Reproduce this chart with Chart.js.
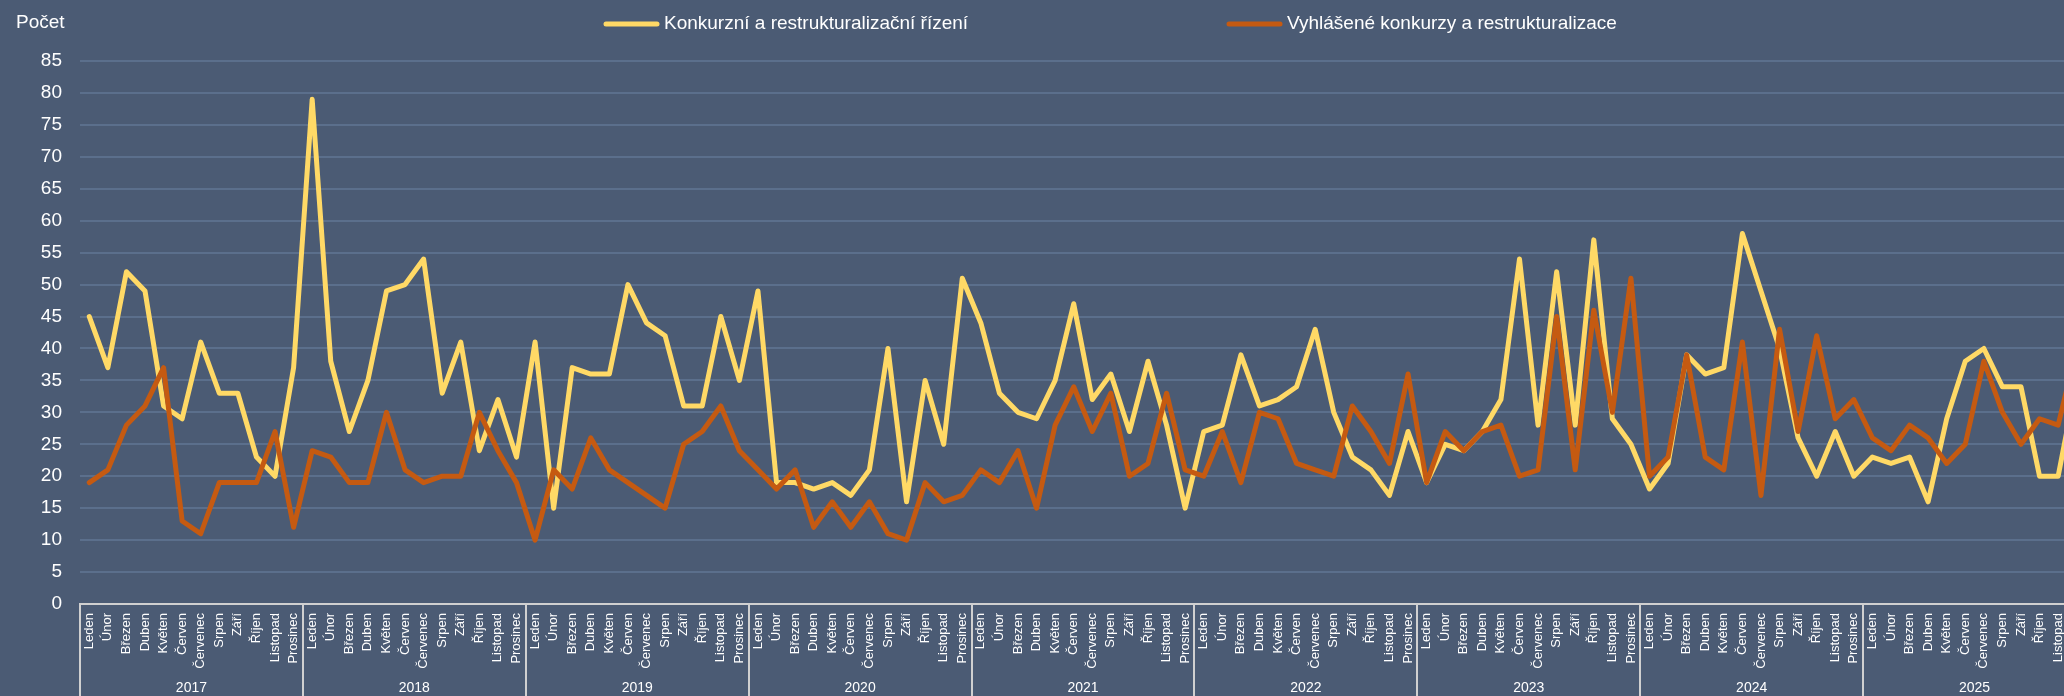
<!DOCTYPE html>
<html>
<head>
<meta charset="utf-8">
<script src="https://cdn.jsdelivr.net/npm/chart.js@4.4.1/dist/chart.umd.min.js"></script>
<style>
    html, body { margin: 0; padding: 0; background: #4b5b74; overflow: hidden; }
    #obal { width: 2090px; height: 696px; }
</style>
</head>
<body>
<div id="obal"><canvas id="grafKonkurzy" width="2090" height="696"></canvas></div>
<script>
var mesice = ['Leden', 'Únor', 'Březen', 'Duben', 'Květen', 'Červen', 'Červenec', 'Srpen', 'Září', 'Říjen', 'Listopad', 'Prosinec'];
var roky = ['2017', '2018', '2019', '2020', '2021', '2022', '2023', '2024', '2025'];

// Konkurzní a restrukturalizační řízení (po měsících 2017 - 2025)
var rizeni = [
    45, 37, 52, 49, 31, 29, 41, 33, 33, 23, 20, 37,
    79, 38, 27, 35, 49, 50, 54, 33, 41, 24, 32, 23,
    41, 15, 37, 36, 36, 50, 44, 42, 31, 31, 45, 35,
    49, 19, 19, 18, 19, 17, 21, 40, 16, 35, 25, 51,
    44, 33, 30, 29, 35, 47, 32, 36, 27, 38, 28, 15,
    27, 28, 39, 31, 32, 34, 43, 30, 23, 21, 17, 27,
    19, 25, 24, 27, 32, 54, 28, 52, 28, 57, 29, 25,
    18, 22, 39, 36, 37, 58, 49, 40, 26, 20, 27, 20,
    23, 22, 23, 16, 29, 38, 40, 34, 34, 20, 20, 35
];

// Vyhlášené konkurzy a restrukturalizace
var vyhlasene = [
    19, 21, 28, 31, 37, 13, 11, 19, 19, 19, 27, 12,
    24, 23, 19, 19, 30, 21, 19, 20, 20, 30, 24, 19,
    10, 21, 18, 26, 21, 19, 17, 15, 25, 27, 31, 24,
    21, 18, 21, 12, 16, 12, 16, 11, 10, 19, 16, 17,
    21, 19, 24, 15, 28, 34, 27, 33, 20, 22, 33, 21,
    20, 27, 19, 30, 29, 22, 21, 20, 31, 27, 22, 36,
    19, 27, 24, 27, 28, 20, 21, 45, 21, 46, 30, 51,
    20, 23, 39, 23, 21, 41, 17, 43, 27, 42, 29, 32,
    26, 24, 28, 26, 22, 25, 38, 30, 25, 29, 28, 40
];

var osaMin = 0;
var osaMax = 85;
var osaKrok = 5;

var popisky = [];
for (var r = 0; r < roky.length; r++) {
    for (var m = 0; m < mesice.length; m++) {
        popisky.push(mesice[m]);
    }
}

var pismo = '"Liberation Sans", Arial, sans-serif';
var bila = '#ffffff';
var seda = '#d0d0d0';

// legenda a popisek "Počet" nahoře
var legendaNahore = {
    id: 'legendaNahore',
    afterDraw: function (chart) {
        var ctx = chart.ctx;
        var pozice = [603, 1226];
        ctx.save();
        ctx.font = '19px ' + pismo;
        ctx.fillStyle = bila;
        ctx.textBaseline = 'middle';
        ctx.fillText('Počet', 16, 23);
        chart.data.datasets.forEach(function (ds, i) {
            var x = pozice[i];
            ctx.strokeStyle = ds.borderColor;
            ctx.lineWidth = 5;
            ctx.lineCap = 'round';
            ctx.beginPath();
            ctx.moveTo(x + 3, 24);
            ctx.lineTo(x + 54, 24);
            ctx.stroke();
            ctx.fillText(ds.label, x + 61, 24);
        });
        ctx.restore();
    }
};

var ctx = document.getElementById('grafKonkurzy');
var graf = new Chart(ctx, {
    type: 'line',
    data: {
        labels: popisky,
        datasets: [{
            label: 'Konkurzní a restrukturalizační řízení',
            data: rizeni,
            borderColor: '#ffd966',
            borderWidth: 5,
            order: 1
        }, {
            label: 'Vyhlášené konkurzy a restrukturalizace',
            data: vyhlasene,
            borderColor: '#c55a11',
            borderWidth: 5,
            order: 0
        }]
    },
    options: {
        responsive: false,
        animation: false,
        devicePixelRatio: 1,
        layout: { padding: { top: 61, right: 4, bottom: 0, left: 0 } },
        elements: {
            point: { radius: 0, hoverRadius: 0 },
            line: { tension: 0, borderJoinStyle: 'round', borderCapStyle: 'round' }
        },
        plugins: {
            legend: { display: false },
            tooltip: { enabled: false }
        },
        scales: {
            x: {
                type: 'category',
                offset: true,
                weight: 0,
                grid: {
                    offset: true,
                    drawOnChartArea: false,
                    drawTicks: true,
                    tickLength: 92,
                    lineWidth: 2,
                    color: function (c) {
                        return c.index % 12 === 0 ? seda : 'rgba(0,0,0,0)';
                    }
                },
                border: { display: true, color: seda, width: 2 },
                ticks: {
                    autoSkip: false,
                    maxRotation: 90,
                    minRotation: 90,
                    padding: -83,
                    color: bila,
                    font: { family: pismo, size: 13 }
                },
                afterFit: function (s) { s.height = 66; }
            },
            x2: {
                type: 'category',
                position: 'bottom',
                labels: roky,
                offset: true,
                weight: 1,
                grid: { display: false },
                border: { display: false },
                ticks: {
                    maxRotation: 0,
                    padding: 2,
                    color: bila,
                    font: { family: pismo, size: 14 }
                },
                afterFit: function (s) { s.height = 26; }
            },
            y: {
                min: osaMin,
                max: osaMax,
                ticks: {
                    stepSize: osaKrok,
                    padding: 18,
                    color: bila,
                    font: { family: pismo, size: 19 }
                },
                grid: { color: '#5b6f8c', lineWidth: 2, drawTicks: false },
                border: { display: false },
                afterFit: function (s) { s.width = 80; }
            }
        }
    },
    plugins: [legendaNahore]
});
</script>
</body>
</html>
